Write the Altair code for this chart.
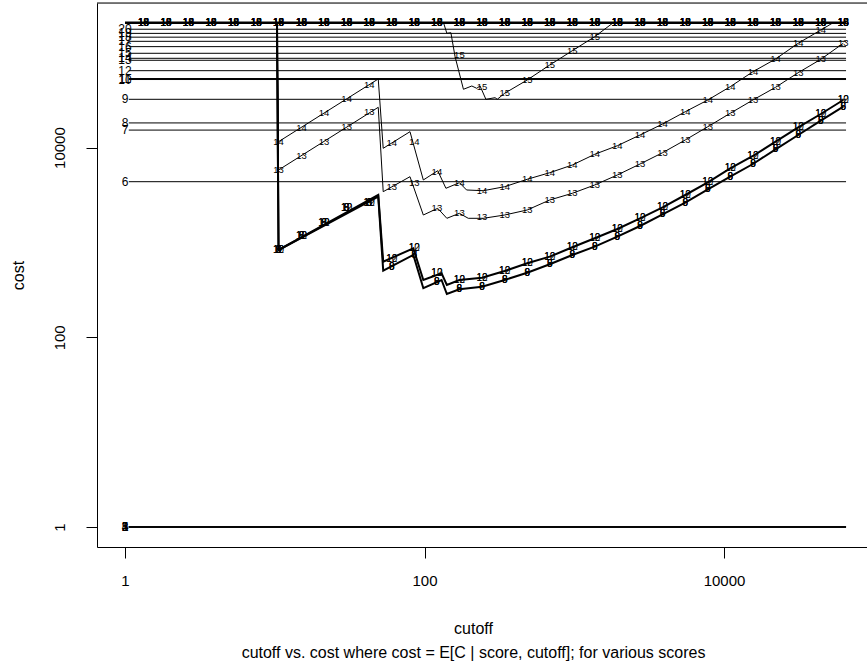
import altair as alt
import pandas as pd

# cutoffs at which the curves carry their score labels
label_cutoffs = [1.33, 1.88, 2.65, 3.75, 5.31, 7.52, 10.6, 15.1, 21.3, 30.2,
                 42.7, 60.4, 85.4, 121, 171, 242, 343, 485, 686, 971,
                 1370, 1940, 2750, 3890, 5510, 7800, 11000, 15600, 22100,
                 31300, 44300, 62600]

ceiling_cost = 207000
ceiling_texts = ["10", "13", "14", "15", "16", "18"]
flat_start = 1.06
flat_end = 65300

# flat cost per score, labelled at cutoff 1
flat_scores = ["20", "19", "18", "17", "16", "15", "14", "13", "12", "11",
               "10", "9", "8", "7", "6", "5", "4", "3", "2", "1"]
flat_costs = [177000, 160000, 146000, 132000, 116000, 98700, 87400, 83300,
              64700, 53500, 52200, 32300, 18200, 15300, 4370, 1, 1, 1, 1, 1]

# score 14
s14_cut = [10.35, 10.6, 49.1, 53, 80, 98.2, 122.5, 139, 171, 191, 247, 343,
           485, 686, 971, 1370, 1940, 2750, 3890, 5510, 7800, 11000, 15600,
           22100, 31300, 44300, 53500]
s14_cost = [207000, 11540, 52880, 9830, 14710, 4555, 5708, 3724, 4266, 3573,
            3513, 3871, 4633, 5438, 6555, 8500, 10470, 13580, 17740, 23900,
            31760, 43860, 63120, 85950, 125800, 173700, 207000]
s14_labels = [11540, 16210, 23160, 32540, 46050, 11100, 11540, 5571, 4266,
              3513, 3871, 4633, 5438, 6555, 8500, 10470, 13580, 17740, 23900,
              31760, 43860, 63120, 85950, 125800, 173700]

# score 13
s13_cut = [10.35, 10.6, 49.1, 53, 80, 98.2, 122.5, 141, 171, 196, 247, 343,
           485, 686, 971, 1370, 1940, 2750, 3890, 5510, 7800, 11000, 15600,
           22100, 31300, 44300, 62600]
s13_cost = [207000, 5806, 26600, 3429, 4934, 1947, 2291, 1797, 2029, 1797,
            1797, 1947, 2199, 2803, 3298, 4034, 5142, 6716, 8836, 12030,
            16610, 22990, 31760, 43230, 61620, 85300, 125800]
s13_labels = [5806, 8215, 11540, 16610, 23560, 3871, 4203, 2291, 2029, 1868,
              1947, 2199, 2803, 3298, 4034, 5142, 6716, 8836, 12030, 16610,
              22990, 31760, 43230, 61620, 85300, 125800]

# score 15
s15_cut = [134, 141, 150, 160, 182, 207, 223, 235, 257, 296, 306, 343, 485,
           686, 971, 1370, 1820]
s15_cost = [207000, 160400, 162700, 90870, 41190, 44620, 42200, 44620, 32300,
            33580, 32300, 37370, 51600, 74300, 105100, 147700, 207000]
s15_labels = [94680, 43860, 37370, 51600, 74300, 105100, 147700]

# scores 10-12 (upper heavy curve) and 6-9 (lower heavy curve)
heavy_cut = [10.35, 10.6, 49.1, 53, 84.2, 98.2, 130, 141, 171, 242, 343, 485,
             686, 971, 1370, 1940, 2750, 3890, 5510, 7800, 11000, 15600,
             22100, 31300, 44300, 62600]
upper_cost = [207000, 833, 3164, 627, 868, 402, 473, 356, 402, 425, 500, 603,
              708, 889, 1106, 1386, 1797, 2348, 3164, 4307, 6049, 8156, 11540,
              16370, 22610, 31760]
upper_labels = [833, 1169, 1615, 2325, 2625, 664, 868, 473, 402, 425, 500,
                603, 708, 889, 1106, 1386, 1797, 2348, 3164, 4307, 6049, 8156,
                11540, 16370, 22610, 31760]
lower_cost = [207000, 833, 3037, 504, 738, 329, 402, 286, 321, 342, 402, 480,
              589, 738, 902, 1150, 1491, 1981, 2625, 3635, 4934, 6716, 9596,
              13580, 19210, 27000]
lower_labels = [833, 1169, 1615, 2325, 2625, 555, 738, 386, 321, 342, 402,
                480, 589, 738, 902, 1150, 1491, 1981, 2625, 3635, 4934, 6716,
                9596, 13580, 19210, 27000]

# plot region limits (log scale, with R's 4% padding)
x_lim = [0.6501, 90130]
y_lim = [0.6153, 334600]

FONT = "Liberation Sans"


def curve_frame(name, cuts, costs):
    return pd.DataFrame({"curve": name, "i": range(len(cuts)),
                         "cutoff": cuts, "cost": costs})


def label_frame(texts, first_k, costs):
    rows = []
    for t in texts:
        for j, c in enumerate(costs):
            rows.append({"cutoff": label_cutoffs[first_k + j], "cost": c,
                         "txt": t})
    return pd.DataFrame(rows)


thin_df = pd.concat([curve_frame("14", s14_cut, s14_cost),
                     curve_frame("13", s13_cut, s13_cost),
                     curve_frame("15", s15_cut, s15_cost)])
heavy_df = pd.concat([curve_frame("upper", heavy_cut, upper_cost),
                      curve_frame("lower", heavy_cut, lower_cost)])
thin_lab = pd.concat([label_frame(["14"], 6, s14_labels),
                      label_frame(["13"], 6, s13_labels),
                      label_frame(["15"], 14, s15_labels)])
heavy_lab = pd.concat([label_frame(["10", "12"], 6, upper_labels),
                       label_frame(["6", "8", "9"], 6, lower_labels)])
ceiling_lab = label_frame(ceiling_texts, 0,
                          [ceiling_cost] * len(label_cutoffs))

flat_df = pd.DataFrame({"score": flat_scores, "cost": flat_costs,
                        "start": flat_start, "end": flat_end})
ceiling_df = pd.DataFrame({"cost": [ceiling_cost], "start": [1],
                           "end": [flat_end]})

xs = alt.Scale(type="log", domain=x_lim)
ys = alt.Scale(type="log", domain=y_lim)

x_axis = alt.Axis(values=[1, 100, 10000], format="d", grid=False,
                  tickSize=11, tickColor="black", domainColor="black",
                  labelFont=FONT, labelFontSize=15, labelColor="black",
                  labelPadding=15,
                  title=["cutoff",
                         "cutoff vs. cost where cost = E[C | score, cutoff]; for various scores"],
                  titleFont=FONT, titleFontSize=16, titleFontWeight="normal",
                  titleColor="black", titleX=376, titleY=86,
                  titleAlign="center", titleBaseline="alphabetic",
                  titleLineHeight=24, titleAngle=0)
y_axis = alt.Axis(values=[1, 100, 10000], format="d", grid=False,
                  tickSize=11, tickColor="black", domainColor="black",
                  labelFont=FONT, labelFontSize=15, labelColor="black",
                  labelAngle=270, labelAlign="center",
                  labelBaseline="alphabetic", labelPadding=22,
                  title="cost", titleFont=FONT, titleFontSize=16,
                  titleFontWeight="normal", titleColor="black",
                  titleAngle=270, titleX=-74, titleY=272,
                  titleAlign="center", titleBaseline="alphabetic")

X = lambda f: alt.X(f, type="quantitative", scale=xs, axis=x_axis)
Y = lambda f: alt.Y(f, type="quantitative", scale=ys, axis=y_axis)

flat_rules = alt.Chart(flat_df).mark_rule(color="black", strokeWidth=1).encode(
    x=X("start"), x2="end", y=Y("cost"))
flat_text = alt.Chart(flat_df).mark_text(
    font=FONT, fontSize=12, color="black").encode(
    x=alt.X(datum=1, scale=xs, axis=x_axis), y=Y("cost"), text="score:N")

ceiling_rule = alt.Chart(ceiling_df).mark_rule(
    color="black", strokeWidth=2.5).encode(x=X("start"), x2="end", y=Y("cost"))
ceiling_text = alt.Chart(ceiling_lab).mark_text(
    font=FONT, fontSize=10, color="black").encode(
    x=X("cutoff"), y=Y("cost"), text="txt:N")

thin_lines = alt.Chart(thin_df).mark_line(
    color="black", strokeWidth=1).encode(
    x=X("cutoff"), y=Y("cost"), detail="curve:N", order="i:Q")
heavy_lines = alt.Chart(heavy_df).mark_line(
    color="black", strokeWidth=2).encode(
    x=X("cutoff"), y=Y("cost"), detail="curve:N", order="i:Q")
thin_text = alt.Chart(thin_lab).mark_text(
    font=FONT, fontSize=9.5, color="black").encode(
    x=X("cutoff"), y=Y("cost"), text="txt:N")
heavy_text = alt.Chart(heavy_lab).mark_text(
    font=FONT, fontSize=10, color="black").encode(
    x=X("cutoff"), y=Y("cost"), text="txt:N")

# top edge of the plot box
frame_top = alt.Chart(ceiling_df).mark_rule(color="black", strokeWidth=1).encode(
    x=alt.X(datum=x_lim[0], scale=xs, axis=x_axis),
    x2=alt.X2(datum=x_lim[1]),
    y=alt.Y(datum=y_lim[1], scale=ys, axis=y_axis))

chart = alt.layer(
    flat_rules, flat_text, ceiling_rule, thin_lines, heavy_lines,
    ceiling_text, thin_text, heavy_text, frame_top
).properties(
    width=770, height=544,
    autosize=alt.AutoSizeParams(type="none"),
    padding={"left": 97, "top": 3, "right": 0, "bottom": 123},
).configure_view(stroke=None).configure(background="white")

chart.save("out.html", embed_options={"renderer": "svg", "actions": False})
